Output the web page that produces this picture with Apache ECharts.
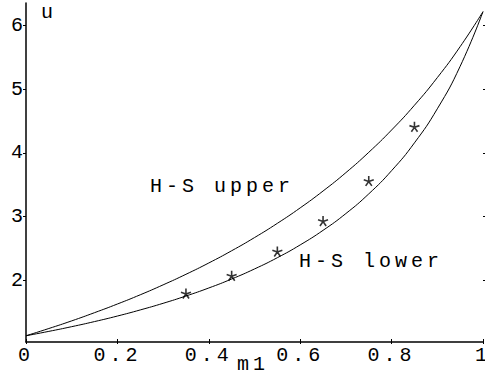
<!DOCTYPE html>
<html lang="en">
<head>
    <meta charset="UTF-8">
    <title>H-S bounds</title>
    <script src="https://cdn.jsdelivr.net/npm/echarts@6/dist/echarts.min.js"></script>
    <style>
        html, body { margin: 0; padding: 0; background: #fff; }
        #chart { width: 485px; height: 378px; }
        /* maple style wide courier text */
        #chart text { letter-spacing: 4px; font-family: "Liberation Mono", monospace !important; }
    </style>
</head>
<body>
<div id="chart"></div>
<script type="text/javascript">
    // m1 values and the two bound curves
    var xs = [0, 0.05, 0.1, 0.15, 0.2, 0.25, 0.3, 0.35, 0.4, 0.45, 0.5, 0.55, 0.6, 0.65, 0.7, 0.75, 0.8, 0.85, 0.9, 0.95, 1];
    var upperHS = [1.126, 1.240, 1.360, 1.489, 1.625, 1.770, 1.926, 2.092, 2.270, 2.462, 2.669, 2.893, 3.136, 3.401, 3.690, 4.009, 4.360, 4.749, 5.183, 5.670, 6.220];
    var lowerHS = [1.126, 1.195, 1.269, 1.349, 1.436, 1.532, 1.636, 1.751, 1.877, 2.018, 2.176, 2.353, 2.554, 2.783, 3.047, 3.356, 3.721, 4.158, 4.693, 5.361, 6.220];
    // measured points (stars)
    var starX = [0.35, 0.45, 0.55, 0.65, 0.75, 0.85];
    var starY = [1.79, 2.07, 2.45, 2.93, 3.56, 4.41];
    // tick labels
    var xTicks = [0, 0.2, 0.4, 0.6, 0.8, 1];
    var yTicks = [2, 3, 4, 5, 6];

    var FONT = 'Liberation Mono';

    function pairs(a, b) {
        return a.map(function (v, i) { return [v, b[i]]; });
    }

    var chart = echarts.init(document.getElementById('chart'), null, { renderer: 'svg' });

    var gridW = 485 - 26 - 2;
    var gridH = 378 - 3 - 36;

    chart.setOption({
        animation: false,
        backgroundColor: '#fff',
        grid: { left: 26, right: 2, top: 3, bottom: 36, containLabel: false, outerBoundsMode: 'none' },
        xAxis: [{
            type: 'value',
            min: 0,
            max: 1,
            axisLine: { lineStyle: { color: '#000', width: 1.5 } },
            axisTick: { show: true, length: 2, customValues: xTicks, lineStyle: { color: '#000' } },
            axisLabel: { customValues: xTicks, margin: 3, color: '#000', fontFamily: FONT, fontSize: 20 },
            splitLine: { show: false }
        }, {
            // second axis only for the upper half of the crossing ticks
            type: 'value',
            min: 0,
            max: 1,
            position: 'top',
            offset: -gridH,
            axisLine: { show: false },
            axisTick: { show: true, length: 3, customValues: xTicks, lineStyle: { color: '#000' } },
            axisLabel: { show: false },
            splitLine: { show: false }
        }],
        yAxis: [{
            type: 'value',
            min: 1.028,
            max: 6.356,
            axisLine: { lineStyle: { color: '#000', width: 1.5 } },
            axisTick: { show: true, length: 3, customValues: yTicks, lineStyle: { color: '#000' } },
            axisLabel: { customValues: yTicks, margin: -1, color: '#000', fontFamily: FONT, fontSize: 20 },
            splitLine: { show: false }
        }, {
            type: 'value',
            min: 1.028,
            max: 6.356,
            position: 'right',
            offset: -gridW,
            axisLine: { show: false },
            axisTick: { show: true, length: 3, customValues: yTicks, lineStyle: { color: '#000' } },
            axisLabel: { show: false },
            splitLine: { show: false }
        }],
        // axis titles and curve labels
        graphic: [
            { type: 'text', left: 41, top: 2, style: { text: 'u', font: '20px ' + FONT, fill: '#000' } },
            { type: 'text', left: 237, top: 354, style: { text: 'm1', font: '20px ' + FONT, fill: '#000' } },
            { type: 'text', left: 150, top: 176, style: { text: 'H-S upper', font: '20px ' + FONT, fill: '#000' } },
            { type: 'text', left: 299, top: 251, style: { text: 'H-S lower', font: '20px ' + FONT, fill: '#000' } }
        ],
        series: [{
            name: 'H-S upper',
            type: 'line',
            data: pairs(xs, upperHS),
            smooth: true,
            symbol: 'none',
            lineStyle: { color: '#000', width: 1 }
        }, {
            name: 'H-S lower',
            type: 'line',
            data: pairs(xs, lowerHS),
            smooth: true,
            symbol: 'none',
            lineStyle: { color: '#000', width: 1 }
        }, {
            name: 'measured',
            type: 'scatter',
            data: pairs(starX, starY),
            symbol: 'path://M50 50L50 0M50 50L97.6 34.5M50 50L79.4 90.5M50 50L20.6 90.5M50 50L2.4 34.5',
            symbolSize: [10, 10],
            itemStyle: { color: 'none', borderColor: '#000', borderWidth: 1.6 }
        }]
    });
</script>
</body>
</html>
